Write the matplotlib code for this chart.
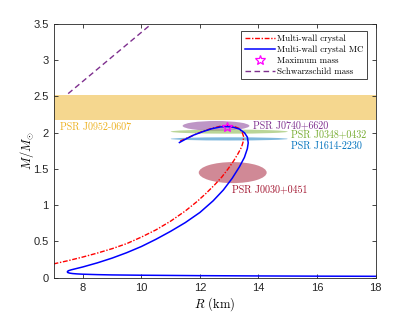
import matplotlib
matplotlib.use("Agg")
import matplotlib.pyplot as plt
from matplotlib.patches import Ellipse
from matplotlib.lines import Line2D

plt.rcParams['mathtext.fontset'] = 'cm'

# mass-radius curves
r_red = [7.0, 7.5, 8.0, 8.5, 9.0, 9.5, 10.0, 10.5, 11.0, 11.5, 11.9, 12.2, 12.5, 12.75,
         12.96, 13.15, 13.3, 13.42, 13.48, 13.49, 13.44, 13.33, 13.15, 12.95, 12.7, 12.4,
         12.1, 11.8, 11.55, 11.3]
m_red = [0.19, 0.235, 0.285, 0.34, 0.40, 0.47, 0.56, 0.66, 0.78, 0.92, 1.05, 1.16, 1.28,
         1.39, 1.50, 1.61, 1.71, 1.80, 1.88, 1.95, 2.01, 2.06, 2.09, 2.10, 2.09, 2.06,
         2.02, 1.97, 1.925, 1.88]

r_blue = [18.0, 16.0, 14.0, 12.0, 10.0, 9.0, 8.5, 8.0, 7.8, 7.65, 7.55, 7.49, 7.47, 7.5,
          7.6, 7.8, 8.0, 8.5, 9.0, 9.5, 10.0, 10.5, 11.0, 11.5, 12.0, 12.45, 12.8, 13.1,
          13.35, 13.52, 13.62, 13.65, 13.62, 13.52, 13.35, 13.15, 12.95, 12.7, 12.4,
          12.1, 11.8, 11.55, 11.3]
m_blue = [0.019, 0.021, 0.024, 0.028, 0.034, 0.038, 0.042, 0.048, 0.052, 0.057, 0.063,
          0.07, 0.08, 0.095, 0.108, 0.128, 0.148, 0.205, 0.27, 0.345, 0.43, 0.53, 0.64,
          0.76, 0.90, 1.06, 1.21, 1.37, 1.53, 1.66, 1.78, 1.86, 1.94, 2.0, 2.05, 2.075,
          2.085, 2.08, 2.055, 2.015, 1.97, 1.92, 1.865]

r_schw = [7.5, 10.34]
m_schw = [2.54, 3.5]

r_max, m_max = 12.93, 2.08

# J0952-0607 band
band_lo, band_hi = 2.18, 2.52

# pulsar constraints: name, R centre, M centre, R half-width, M half-width
psr_names = ['PSR J0740+6620', 'PSR J0348+0432', 'PSR J1614-2230', 'PSR J0030+0451']
psr_r = [12.55, 13.0, 13.0, 13.12]
psr_m = [2.095, 2.015, 1.915, 1.45]
psr_dr = [1.14, 2.0, 2.0, 1.16]
psr_dm = [0.067, 0.028, 0.022, 0.145]
psr_colors = ['#7E2F8E', '#77AC30', '#0072BD', '#A2142F']
label_r = [13.8, 15.1, 15.1, 13.1]
label_m = [2.095, 1.965, 1.82, 1.215]

fig = plt.figure(figsize=(4.15, 3.12), dpi=100)
ax = fig.add_axes([0.129, 0.110, 0.776, 0.813])

ax.axhspan(band_lo, band_hi, color='#EDB120', alpha=0.5, lw=0)
ax.text(7.23, 2.07, 'PSR J0952-0607', color='#EDB120', fontsize=7.2,
        family='cmr10', va='center')

for i in range(len(psr_names)):
    ax.add_patch(Ellipse((psr_r[i], psr_m[i]), 2 * psr_dr[i], 2 * psr_dm[i],
                         color=psr_colors[i], alpha=0.5, lw=0))
    ax.text(label_r[i], label_m[i], psr_names[i], color=psr_colors[i], fontsize=7.2,
            family='cmr10', va='center')

ax.plot(r_red, m_red, color='red', lw=1.0, ls=(0, (3.5, 1.2, 1, 1.2)))
ax.plot(r_blue, m_blue, color='blue', lw=1.1)
ax.plot([r_max], [m_max], marker='*', color='magenta', mfc='none', ms=7, ls='none', mew=0.9)
ax.plot(r_schw, m_schw, color='#7E2F8E', lw=1.0, ls=(0, (4, 2.5)))

ax.set_xlim(7, 18)
ax.set_ylim(0, 3.5)
ax.set_xticks([8, 10, 12, 14, 16, 18])
ax.set_yticks([0, 0.5, 1, 1.5, 2, 2.5, 3, 3.5])
ax.set_yticklabels(['0', '0.5', '1', '1.5', '2', '2.5', '3', '3.5'])
ax.tick_params(direction='in', length=3, width=0.6, colors='0.15', labelsize=8,
               top=True, right=True, labelcolor='0.15')
for lbl in ax.get_xticklabels() + ax.get_yticklabels():
    lbl.set_family('Liberation Sans')
for s in ax.spines.values():
    s.set_linewidth(0.6)
    s.set_color('0.15')

ax.set_xlabel('$R$ (km)', family='cmr10', fontsize=9, labelpad=2)
ax.set_ylabel(r'$M/M_{\odot}$', fontsize=9, labelpad=-2)

handles = [
    Line2D([], [], color='red', lw=1.0, ls=(0, (3.5, 1.2, 1, 1.2))),
    Line2D([], [], color='blue', lw=1.1),
    Line2D([], [], marker='*', color='magenta', mfc='none', ms=7, ls='none', mew=0.9),
    Line2D([], [], color='#7E2F8E', lw=1.0, ls=(0, (4, 2.5))),
]
labels = ['Multi-wall crystal', 'Multi-wall crystal MC', 'Maximum mass', 'Schwarzschild mass']
leg = ax.legend(handles, labels, loc='upper right', bbox_to_anchor=(0.973, 0.972),
                borderaxespad=0, prop={'family': 'cmr10', 'size': 6.4}, fancybox=False,
                framealpha=1, edgecolor='0.15', handlelength=3.4, handletextpad=0.3,
                labelspacing=0.3, borderpad=0.35)
leg.get_frame().set_linewidth(0.6)

plt.savefig('out.png', dpi=100)
